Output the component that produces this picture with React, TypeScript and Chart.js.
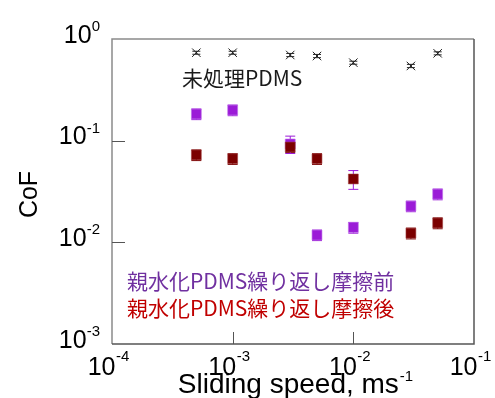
import React, { useEffect, useRef } from 'react';
import { Chart, registerables } from 'chart.js';
Chart.register(...registerables);

// ---- data ----
const speeds = [0.0005, 0.001, 0.003, 0.005, 0.01, 0.03, 0.05];
const untreatedCoF = [0.733, 0.733, 0.696, 0.68, 0.585, 0.543, 0.723];
const untreatedErr = [0.025, 0.025, 0.025, 0.025, 0.02, 0.02, 0.025];
const beforeCoF = [0.183, 0.2, 0.0928, 0.0118, 0.014, 0.0227, 0.0298];
const beforeErr = [0.022, 0.024, 0.018, 0.0014, 0.0017, 0.0027, 0.0036];
const afterCoF = [0.0724, 0.0664, 0.0866, 0.0664, 0.042, 0.0123, 0.0155];
const afterErr = [0.0087, 0.008, 0.01, 0.008, 0.0088, 0.0015, 0.0019];
const xTickExps = [-4, -3, -2, -1];
const yTickExps = [0, -1, -2, -3];
const untreatedLabel = '未処理PDMS';
const beforeLabel = '親水化PDMS繰り返し摩擦前';
const afterLabel = '親水化PDMS繰り返し摩擦後';
const xTitle = 'Sliding speed, ms';
const xTitleSup = '-1';
const yTitle = 'CoF';

const PURPLE = '#9b1bd7';
const MAROON = '#7b0000';
const NUM_FONT = '"Liberation Sans", Arial, sans-serif';
const JP_FONT = '"Noto Sans CJK JP", "Noto Sans", sans-serif';

const toPoints = (ys: number[]) => speeds.map((x, i) => ({ x, y: ys[i] }));

const errorBarPlugin = {
  id: 'errorBars',
  beforeDatasetsDraw(chart: any) {
    const { ctx } = chart;
    const xs = chart.scales.x;
    const ys = chart.scales.y;
    chart.data.datasets.forEach((ds: any) => {
      const errs: number[] | undefined = ds.errors;
      if (!errs) return;
      ds.data.forEach((p: any, j: number) => {
        const px = xs.getPixelForValue(p.x);
        const top = ys.getPixelForValue(p.y + errs[j]);
        const bot = ys.getPixelForValue(p.y - errs[j]);
        const color = (ds.errorColorOverride && ds.errorColorOverride[j]) || ds.errorColor;
        const cw = ds.capHalf || 5;
        ctx.save();
        ctx.strokeStyle = color;
        ctx.lineWidth = 1;
        ctx.beginPath();
        ctx.moveTo(px, top);
        ctx.lineTo(px, bot);
        ctx.moveTo(px - cw, top);
        ctx.lineTo(px + cw, top);
        ctx.moveTo(px - cw, bot);
        ctx.lineTo(px + cw, bot);
        ctx.stroke();
        ctx.restore();
      });
    });
  },
};

const framePlugin = {
  id: 'frameAndText',
  afterDraw(chart: any) {
    const { ctx, chartArea } = chart;
    const { left, right, top, bottom } = chartArea;
    const xs = chart.scales.x;
    const ys = chart.scales.y;
    ctx.save();
    // frame
    ctx.lineWidth = 1.5;
    ctx.strokeStyle = '#8a8a8a';
    ctx.beginPath();
    ctx.moveTo(left, bottom);
    ctx.lineTo(left, top);
    ctx.lineTo(right, top);
    ctx.stroke();
    ctx.strokeStyle = '#555555';
    ctx.beginPath();
    ctx.moveTo(right, top);
    ctx.lineTo(right, bottom);
    ctx.lineTo(left, bottom);
    ctx.stroke();
    // inward ticks
    ctx.lineWidth = 1;
    ctx.strokeStyle = '#555555';
    yTickExps.forEach((e) => {
      const y = Math.round(ys.getPixelForValue(Math.pow(10, e))) + 0.5;
      if (y <= top + 2 || y >= bottom - 2) return;
      ctx.beginPath();
      ctx.moveTo(left, y);
      ctx.lineTo(left + 13, y);
      ctx.stroke();
    });
    xTickExps.forEach((e) => {
      const x = Math.round(xs.getPixelForValue(Math.pow(10, e))) + 0.5;
      if (x <= left + 2 || x >= right - 2) return;
      ctx.beginPath();
      ctx.moveTo(x, bottom);
      ctx.lineTo(x, bottom - 12);
      ctx.stroke();
    });
    // tick labels
    ctx.fillStyle = '#000';
    ctx.textBaseline = 'alphabetic';
    const yRight = left - 12;
    yTickExps.forEach((e) => {
      const y = ys.getPixelForValue(Math.pow(10, e));
      const sup = String(e);
      ctx.font = `15px ${NUM_FONT}`;
      const ws = ctx.measureText(sup).width;
      ctx.textAlign = 'left';
      ctx.fillText(sup, yRight - ws, y - 8);
      ctx.font = `25px ${NUM_FONT}`;
      ctx.textAlign = 'right';
      ctx.fillText('10', yRight - ws, y + 3.5);
    });
    xTickExps.forEach((e) => {
      const x = xs.getPixelForValue(Math.pow(10, e));
      ctx.font = `25px ${NUM_FONT}`;
      ctx.textAlign = 'right';
      ctx.fillText('10', x + 3.5, bottom + 31);
      ctx.font = `15px ${NUM_FONT}`;
      ctx.textAlign = 'left';
      ctx.fillText(String(e), x + 4, bottom + 17);
    });
    // x title
    ctx.font = `28px ${NUM_FONT}`;
    const w1 = ctx.measureText(xTitle).width;
    ctx.font = `15px ${NUM_FONT}`;
    const w2 = ctx.measureText(xTitleSup).width;
    const cx = (left + right) / 2 + 2;
    const sx = cx - (w1 + w2) / 2;
    ctx.font = `28px ${NUM_FONT}`;
    ctx.textAlign = 'left';
    ctx.fillText(xTitle, sx, bottom + 49);
    ctx.font = `15px ${NUM_FONT}`;
    ctx.fillText(xTitleSup, sx + w1 + 1, bottom + 37);
    // y title
    ctx.save();
    ctx.translate(37, (top + bottom) / 2 + 3);
    ctx.rotate(-Math.PI / 2);
    ctx.font = `25px ${NUM_FONT}`;
    ctx.textAlign = 'center';
    ctx.fillText(yTitle, 0, 0);
    ctx.restore();
    // annotations
    ctx.font = `21px ${JP_FONT}`;
    ctx.textAlign = 'left';
    ctx.fillStyle = '#1a1a1a';
    ctx.fillText(untreatedLabel, 182, 85.5);
    ctx.fillStyle = '#7030a0';
    ctx.fillText(beforeLabel, 127, 289);
    ctx.fillStyle = '#c00000';
    ctx.fillText(afterLabel, 127, 316);
    ctx.restore();
  },
};

export default function App() {
  const ref = useRef<HTMLCanvasElement | null>(null);
  useEffect(() => {
    if (!ref.current) return;
    const chart = new Chart(ref.current, {
      type: 'scatter',
      data: {
        datasets: [
          {
            label: afterLabel,
            data: toPoints(afterCoF),
            errors: afterErr,
            errorColor: MAROON,
            errorColorOverride: [null, null, null, null, PURPLE, null, null],
            pointStyle: 'rect',
            pointRadius: 7,
            backgroundColor: MAROON,
            borderColor: 'rgba(160,60,60,0.55)',
            borderWidth: 1,
            order: 0,
          } as any,
          {
            label: beforeLabel,
            data: toPoints(beforeCoF),
            errors: beforeErr,
            errorColor: PURPLE,
            pointStyle: 'rect',
            pointRadius: 7,
            backgroundColor: PURPLE,
            borderColor: 'rgba(190,110,235,0.6)',
            borderWidth: 1,
            order: 1,
          } as any,
          {
            label: untreatedLabel,
            data: toPoints(untreatedCoF),
            errors: untreatedErr,
            errorColor: '#222',
            capHalf: 4,
            pointStyle: 'crossRot',
            pointRadius: 6,
            borderColor: '#222',
            borderWidth: 1,
            order: 2,
          } as any,
        ],
      },
      options: {
        responsive: false,
        animation: false,
        layout: { padding: { left: 112, top: 39, right: 21, bottom: 54 } },
        plugins: { legend: { display: false }, tooltip: { enabled: false } },
        scales: {
          x: { type: 'logarithmic', min: 1e-4, max: 1e-1, display: false },
          y: { type: 'logarithmic', min: 1e-3, max: 1, display: false },
        },
      },
      plugins: [errorBarPlugin, framePlugin],
    });
    return () => chart.destroy();
  }, []);
  return (
    <div style={{ position: 'absolute', left: 0, top: 0, width: 495, height: 398 }}>
      <canvas ref={ref} width={495} height={398} style={{ display: 'block' }} />
    </div>
  );
}
